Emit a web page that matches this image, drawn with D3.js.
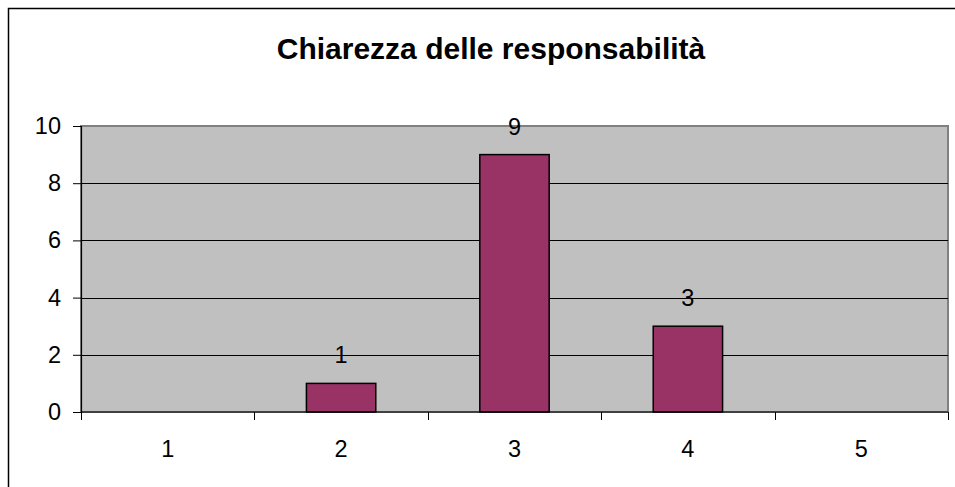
<!DOCTYPE html>
<html>
<head>
<meta charset="utf-8">
<script src="https://cdn.jsdelivr.net/npm/d3@7"></script>
<style>
  html, body { margin: 0; padding: 0; background: #fff; }
  svg { display: block; font-family: Arial, "Liberation Sans", sans-serif; }
</style>
</head>
<body>
<svg id="chart" width="955" height="487"></svg>
<script>
// Survey answers: how many people gave each score
const categories = ["1", "2", "3", "4", "5"];
const counts = [0, 1, 9, 3, 0];
const yTicks = [0, 2, 4, 6, 8, 10];
const chartTitle = "Chiarezza delle responsabilità";

const svg = d3.select("#chart");
const W = 955, H = 487;
const plot = { left: 81, top: 126, right: 948, bottom: 412 };
const labelSize = 23.5;

// Outer chart frame (runs off the right and bottom edges)
svg.append("rect")
  .attr("x", 8.5).attr("y", 8.5)
  .attr("width", W + 20).attr("height", H + 20)
  .attr("fill", "#fff").attr("stroke", "#000").attr("stroke-width", 1.5);

const x = d3.scaleBand().domain(categories).range([plot.left, plot.right]).padding(0);
const y = d3.scaleLinear().domain([0, 10]).range([plot.bottom, plot.top]);

// Plot area background
svg.append("rect")
  .attr("x", plot.left).attr("y", plot.top)
  .attr("width", plot.right - plot.left).attr("height", plot.bottom - plot.top)
  .attr("fill", "#c0c0c0").attr("stroke", "#808080").attr("stroke-width", 2);

// Horizontal gridlines
svg.append("g")
  .selectAll("line")
  .data(yTicks.filter(t => t > 0 && t < 10))
  .join("line")
  .attr("x1", plot.left).attr("x2", plot.right)
  .attr("y1", d => Math.round(y(d)) + 0.5).attr("y2", d => Math.round(y(d)) + 0.5)
  .attr("stroke", "#000").attr("stroke-width", 1);

// Bars: width is band / 2.5 (150% gap)
const barW = x.bandwidth() / 2.5;
const barData = categories.map((c, i) => ({ c, v: counts[i] })).filter(d => d.v > 0);
svg.append("g")
  .selectAll("rect")
  .data(barData)
  .join("rect")
  .attr("x", d => x(d.c) + (x.bandwidth() - barW) / 2)
  .attr("y", d => y(d.v))
  .attr("width", barW)
  .attr("height", d => y(0) - y(d.v))
  .attr("fill", "#993366")
  .attr("stroke", "#000").attr("stroke-width", 1.5);

// Value labels above bars
svg.append("g")
  .selectAll("text")
  .data(barData)
  .join("text")
  .attr("x", d => x(d.c) + x.bandwidth() / 2)
  .attr("y", d => y(d.v) - 20)
  .attr("text-anchor", "middle")
  .attr("font-size", labelSize)
  .attr("fill", "#000")
  .text(d => d.v);

// Y axis
const yAxis = svg.append("g")
  .attr("transform", `translate(${plot.left},0)`)
  .call(d3.axisLeft(y).tickValues(yTicks).tickSize(8).tickPadding(12));
yAxis.select(".domain").attr("stroke", "#000").attr("stroke-width", 1.2);
yAxis.selectAll(".tick line").attr("stroke", "#000");
yAxis.selectAll(".tick text")
  .attr("font-size", labelSize).attr("font-family", "Arial, 'Liberation Sans', sans-serif")
  .attr("fill", "#000");

// X axis with ticks at category boundaries
const xAxisG = svg.append("g").attr("transform", `translate(0,${plot.bottom})`);
xAxisG.append("line")
  .attr("x1", plot.left).attr("x2", plot.right)
  .attr("y1", 0).attr("y2", 0)
  .attr("stroke", "#000").attr("stroke-width", 1.2);
const bounds = categories.map(c => x(c)).concat([plot.right]);
xAxisG.selectAll("line.tk")
  .data(bounds)
  .join("line").attr("class", "tk")
  .attr("x1", d => Math.round(d) + 0.5).attr("x2", d => Math.round(d) + 0.5)
  .attr("y1", 0).attr("y2", 8)
  .attr("stroke", "#000");
xAxisG.selectAll("text")
  .data(categories)
  .join("text")
  .attr("x", d => x(d) + x.bandwidth() / 2)
  .attr("y", 45)
  .attr("text-anchor", "middle")
  .attr("font-size", labelSize)
  .attr("fill", "#000")
  .text(d => d);

// Title
svg.append("text")
  .attr("x", 491).attr("y", 59)
  .attr("text-anchor", "middle")
  .attr("font-size", 30).attr("font-weight", "bold")
  .attr("fill", "#000")
  .text(chartTitle);
</script>
</body>
</html>
